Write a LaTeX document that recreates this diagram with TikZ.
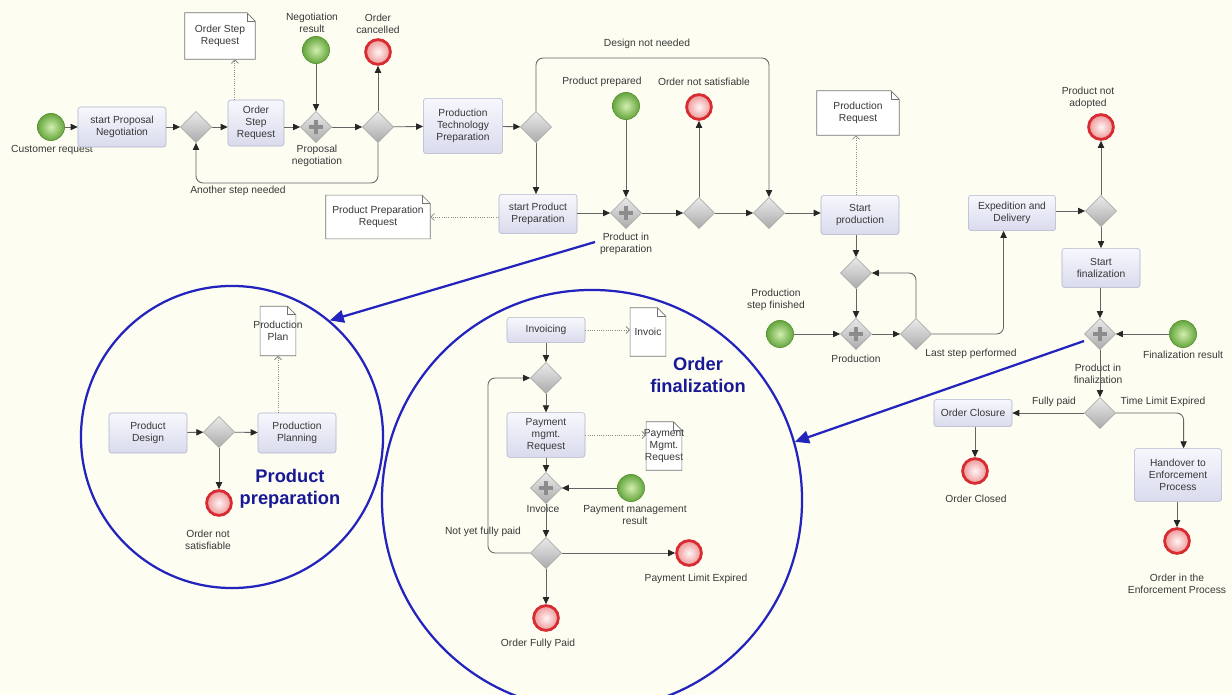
\documentclass[tikz,border=0pt]{standalone}
\usepackage{fontspec}
\setmainfont{Liberation Sans}
\usetikzlibrary{shapes.geometric,arrows.meta}

\definecolor{bgcream}{RGB}{253,253,242}
\definecolor{taskline}{RGB}{176,180,204}
\definecolor{tasktop}{RGB}{247,247,253}
\definecolor{taskbot}{RGB}{217,219,237}
\definecolor{flowgray}{RGB}{100,100,100}
\definecolor{startdark}{RGB}{100,165,60}
\definecolor{startlight}{RGB}{210,238,175}
\definecolor{endred}{RGB}{215,45,50}
\definecolor{endpink}{RGB}{238,150,150}
\definecolor{zoomblue}{RGB}{35,35,190}
\definecolor{titleblue}{RGB}{25,25,150}

\newcommand{\narrowtext}[1]{\makebox[0pt]{#1}}

\begin{document}
\begin{tikzpicture}[x=0.025cm,y=-0.025cm]
\tikzstyle{every node}=[font=\fontsize{7.3}{8.6}\selectfont,text=black!78]
\tikzstyle{task}=[draw=taskline,rounded corners=2pt,top color=tasktop,bottom color=taskbot,align=center,inner sep=1pt]
\tikzstyle{gate}=[diamond,draw=black!38,top color=black!8,bottom color=black!33,minimum size=0.78cm,inner sep=0pt]
\tikzstyle{andgate}=[gate,path picture={\draw[black!45,line width=2.4pt] (path picture bounding box.center) ++(-5pt,0) -- ++(10pt,0) (path picture bounding box.center) ++(0,-5pt) -- ++(0,10pt);}]
\tikzstyle{startev}=[circle,draw=startdark!85!black,inner color=startlight,outer color=startdark,minimum size=0.68cm,inner sep=0pt]
\tikzstyle{endev}=[circle,draw=endred,line width=2pt,inner color=white!85!pink,outer color=endpink,minimum size=0.62cm,inner sep=0pt]
\tikzstyle{doc}=[fill=white,inner sep=1pt,align=center]
\tikzstyle{docline}=[draw=black!55,line width=0.5pt]
\tikzstyle{lbl}=[align=center,inner sep=1pt]
\tikzstyle{zoomtitle}=[align=center,font=\fontsize{13}{15.5}\selectfont\bfseries,text=titleblue]
\tikzstyle{ring}=[circle,draw=zoomblue,line width=1.6pt,inner sep=0pt]
\tikzstyle{flow}=[draw=flowgray,line width=0.6pt,-{Triangle[length=5pt,width=4.5pt,color=black!85]}]
\tikzstyle{assoc}=[draw=black!45,densely dotted,line width=0.6pt,-{Straight Barb[length=2.5pt,width=5pt]}]
\tikzstyle{zoomarrow}=[draw=zoomblue,line width=1.6pt,-{Triangle[length=10pt,width=9pt]}]

\useasboundingbox (0,0) rectangle (1232,695);
\fill[bgcream] (0,0) rectangle (1232,695);
\clip (0,0) rectangle (1232,695);

% zoom rings
\node[ring,minimum size=7.55cm] (ring1) at (232,437) {};
\node[ring,minimum size=10.5cm] (ring2) at (592,500) {};

% negotiation
\node[startev] (cust) at (51,127) {};
\node[lbl] (custL) at (52,150) {Customer request};
\node[task,minimum width=2.2cm,minimum height=1cm] (spn) at (122,127) {start Proposal\\Negotiation};
\node[gate] (g1) at (196,127) {};
\node[task,minimum width=1.4cm,minimum height=1.15cm] (osr) at (256,123) {Order\\Step\\Request};
\node[doc,minimum width=1.75cm,minimum height=1.15cm] (osrDoc) at (220,36) {Order Step\\Request};
\node[andgate] (pg1) at (316,127) {};
\node[lbl] (pg1L) at (317,156) {Proposal\\negotiation};
\node[startev] (negres) at (316,50) {};
\node[lbl] (negresL) at (312,23) {Negotiation\\result};
\node[gate] (g2) at (378,127) {};
\node[endev] (cancel) at (378,52) {};
\node[lbl] (cancelL) at (378,24) {Order\\cancelled};
\node[lbl] (stepL) at (238,191) {Another step needed};
\node[task,minimum width=1.98cm,minimum height=1.38cm] (ptp) at (463,126) {Production\\Technology\\Preparation};
\node[gate] (g3) at (536,127) {};
\node[lbl] (dnnL) at (647,44) {Design not needed};

% product preparation
\node[task,minimum width=1.95cm,minimum height=0.98cm] (spp) at (538,214) {start Product\\Preparation};
\node[doc,minimum width=2.6cm,minimum height=1.08cm] (pprDoc) at (378,217) {Product Preparation\\Request};
\node[andgate] (pg2) at (626,213) {};
\node[lbl] (pg2L) at (626,244) {Product in\\preparation};
\node[startev] (prodprep) at (626,106) {};
\node[lbl] (prodprepL) at (602,82) {Product prepared};
\node[gate] (g5) at (699,213) {};
\node[endev] (notsat) at (699,107) {};
\node[lbl] (notsatL) at (704,82) {Order not satisfiable};
\node[gate] (g6) at (769,213) {};

% production
\node[task,minimum width=1.95cm,minimum height=0.98cm] (sp) at (860,215) {Start\\production};
\node[doc,minimum width=2.05cm,minimum height=1.1cm] (prDoc) at (858,113) {Production\\Request};
\node[gate] (g7) at (856,273) {};
\node[andgate] (pg3) at (856,334) {};
\node[lbl] (pg3L) at (856,359) {Production};
\node[startev] (stepfin) at (780,334) {};
\node[lbl] (stepfinL) at (776,300) {Production\\step finished};
\node[gate] (g8) at (916,334) {};
\node[lbl] (lastL) at (971,354) {Last step performed};

% delivery and finalization
\node[task,minimum width=2.18cm,minimum height=0.88cm] (ed) at (1012,213) {Expedition and\\Delivery};
\node[gate] (g9) at (1101,211) {};
\node[endev] (notadopt) at (1101,127) {};
\node[lbl] (notadoptL) at (1088,98) {Product not\\adopted};
\node[task,minimum width=1.95cm,minimum height=0.98cm] (sf) at (1101,268) {Start\\finalization};
\node[andgate] (pg4) at (1100,334) {};
\node[lbl] (pg4L) at (1098,374) {Product in\\finalization};
\node[startev] (finres) at (1183,334) {};
\node[lbl] (finresL) at (1183,355) {Finalization result};
\node[gate] (g10) at (1100,413) {};
\node[lbl] (fullyL) at (1054,402) {Fully paid};
\node[lbl] (tleL) at (1163,402) {Time Limit Expired};
\node[task,minimum width=1.95cm,minimum height=0.68cm] (oc) at (973,413) {Order Closure};
\node[endev] (closed) at (975,471) {};
\node[lbl] (closedL) at (976,499) {Order Closed};
\node[task,minimum width=2.18cm,minimum height=1.32cm] (hand) at (1178,475) {Handover to\\Enforcement\\Process};
\node[endev] (enforce) at (1177,541) {};
\node[lbl] (enforceL) at (1177,584) {Order in the\\Enforcement Process};

% inside ring 1
\node[task,minimum width=1.95cm,minimum height=1cm] (pd) at (148,433) {Product\\Design};
\node[gate] (g13) at (219,432) {};
\node[task,minimum width=1.95cm,minimum height=1cm] (pp) at (297,433) {Production\\Planning};
\node[doc,minimum width=0.88cm,minimum height=1.22cm] (planDoc) at (278,331) {\narrowtext{Production}\\\narrowtext{Plan}};
\node[endev] (nsat2) at (219,503) {};
\node[lbl] (nsat2L) at (208,540) {Order not\\satisfiable};
\node[zoomtitle] (ppT) at (290,489) {Product\\preparation};

% inside ring 2
\node[task,minimum width=1.95cm,minimum height=0.63cm] (inv) at (546,330) {Invoicing};
\node[doc,minimum width=0.88cm,minimum height=1.2cm] (invDoc) at (648,332) {\narrowtext{Invoic}};
\node[gate] (g11) at (546,378) {};
\node[task,minimum width=1.95cm,minimum height=1.12cm] (pmr) at (546,435) {Payment\\mgmt.\\Request};
\node[doc,minimum width=0.88cm,minimum height=1.2cm] (pmrDoc) at (664,446) {\narrowtext{Payment}\\\narrowtext{Mgmt.}\\\narrowtext{Request}};
\node[andgate] (pg5) at (546,488) {};
\node[lbl] (pg5L) at (543,509) {Invoice};
\node[startev] (payres) at (631,488) {};
\node[lbl] (payresL) at (635,515) {Payment management\\result};
\node[gate] (g12) at (546,553) {};
\node[lbl] (notyetL) at (483,532) {Not yet fully paid};
\node[endev] (limit) at (689,553) {};
\node[lbl] (limitL) at (696,579) {Payment Limit Expired};
\node[endev] (fully) at (546,618) {};
\node[lbl] (fullyPaidL) at (538,644) {Order Fully Paid};
\node[zoomtitle] (ofT) at (698,375) {Order\\finalization};

% folded corners of the documents
\foreach \d in {osrDoc,pprDoc,prDoc,planDoc,invDoc,pmrDoc}{
  \fill[bgcream] ([xshift=-6pt]\d.north east) -- (\d.north east) -- ([yshift=-6pt]\d.north east) -- cycle;
  \draw[docline] (\d.south west) -- (\d.south east) -- ([yshift=-6pt]\d.north east) -- ([xshift=-6pt]\d.north east) -- (\d.north west) -- cycle;
  \draw[docline] ([xshift=-6pt]\d.north east) |- ([yshift=-6pt]\d.north east);
}

\coordinate (stepY) at (0,183);
\coordinate (designY) at (0,58);
\coordinate (payX) at (488,0);
\coordinate (osrA) at ([xshift=-15pt]osr.north);
\coordinate (edIn) at ([xshift=-6pt]ed.south);
\coordinate (handIn) at ([xshift=4pt]hand.north);
\coordinate (fromA) at (595,242);
\coordinate (fromB) at (1084,341);

% flows
\draw[flow] (cust) -- (spn);
\draw[flow] (spn) -- (g1);
\draw[flow] (g1) -- (osr.west |- g1);
\draw[flow] (osr.east |- pg1) -- (pg1);
\draw[flow] (negres) -- (pg1);
\draw[flow] (pg1) -- (g2);
\draw[flow] (g2) -- (cancel);
\draw[flow] (g2) -- (ptp);
\draw[flow,rounded corners=5pt] (g2.south) |- (g1.south |- stepY) -- (g1.south);
\draw[assoc] (osrA) -- (osrA |- osrDoc.south);
\draw[flow] (ptp) -- (g3);
\draw[flow,rounded corners=5pt] (g3.north) |- (g6.north |- designY) -- (g6.north);
\draw[flow] (g3.south) -- (g3.south |- spp.north);
\draw[assoc] (spp.west |- pprDoc) -- (pprDoc.east);
\draw[flow] (spp.east |- pg2) -- (pg2);
\draw[flow] (prodprep) -- (pg2);
\draw[flow] (pg2) -- (g5);
\draw[flow] (g5) -- (notsat);
\draw[flow] (g5) -- (g6);
\draw[flow] (g6) -- (sp.west |- g6);
\draw[assoc] (sp.north -| g7) -- (prDoc.south -| g7);
\draw[flow] (sp.south -| g7) -- (g7);
\draw[flow] (g7) -- (pg3);
\draw[flow] (stepfin) -- (pg3);
\draw[flow] (pg3) -- (g8);
\draw[flow,rounded corners=5pt] (g8.north) |- (g7.east);
\draw[flow,rounded corners=5pt] (g8.east) -| (edIn);
\draw[flow] (ed.east |- g9) -- (g9);
\draw[flow] (g9) -- (notadopt);
\draw[flow] (g9) -- (sf);
\draw[flow] (sf.south -| pg4) -- (pg4);
\draw[flow] (finres) -- (pg4);
\draw[flow] (pg4) -- (g10);
\draw[flow] (g10) -- (oc.east |- g10);
\draw[flow,rounded corners=5pt] (g10.east) -| (handIn);
\draw[flow] (oc.south -| closed) -- (closed);
\draw[flow] (hand.south -| enforce) -- (enforce);

% ring 1
\draw[flow] (pd) -- (g13);
\draw[flow] (g13) -- (pp);
\draw[flow] (g13) -- (nsat2);
\draw[assoc] (pp.north -| planDoc) -- (planDoc);

% ring 2
\draw[assoc] (inv) -- (inv.east -| invDoc.west);
\draw[flow] (inv) -- (g11);
\draw[flow] (g11) -- (pmr);
\draw[assoc] (pmr) -- (pmr.east -| pmrDoc.west);
\draw[flow] (pmr) -- (pg5);
\draw[flow] (payres) -- (pg5);
\draw[flow] (pg5) -- (g12);
\draw[flow,rounded corners=5pt] (g12.west) -- (payX |- g12) |- (g11.west);
\draw[flow] (g12) -- (limit);
\draw[flow] (g12) -- (fully);

% zoom arrows
\draw[zoomarrow] (fromA) -- (ring1.50);
\draw[zoomarrow] (fromB) -- (ring2.16);
\end{tikzpicture}
\end{document}
